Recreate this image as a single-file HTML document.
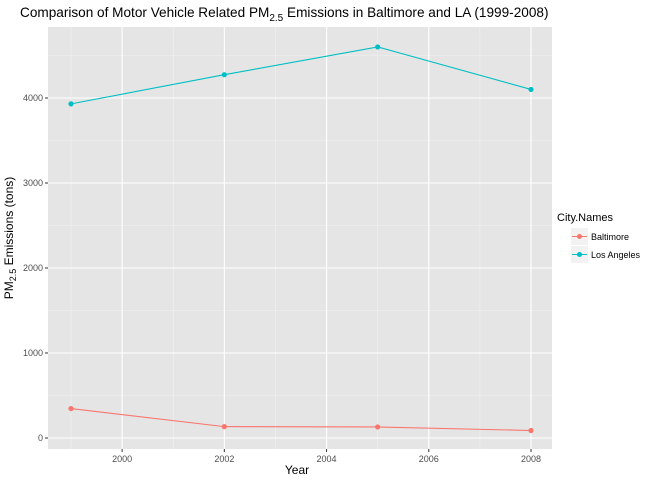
<!DOCTYPE html>
<html><head><meta charset="utf-8"><style>
body{margin:0;background:#fff;font-family:"Liberation Sans",sans-serif}
</style></head><body>
<svg width="650" height="480" xmlns="http://www.w3.org/2000/svg" font-family="Liberation Sans, sans-serif">
<text x="20" y="17" font-size="13.6" fill="#000">Comparison of Motor Vehicle Related PM<tspan font-size="10" dy="4">2.5</tspan><tspan dy="-4"> Emissions in Baltimore and LA (1999-2008)</tspan></text>
<rect x="48" y="27" width="504" height="422" fill="#e5e5e5"/>
<g id="grid"></g><g id="series"></g><g id="axes"></g>
<text x="297" y="474" font-size="12" text-anchor="middle">Year</text>
<text transform="translate(13,238) rotate(-90)" font-size="12" text-anchor="middle">PM<tspan font-size="9" dy="3">2.5</tspan><tspan dy="-3"> Emissions (tons)</tspan></text>
<g>
<text x="557" y="221" font-size="11">City.Names</text>
<g><rect x="571" y="228" width="17" height="17" fill="#f2f2f2"/><line x1="572" x2="587" y1="236.5" y2="236.5" stroke="#f8766d"/><circle cx="579.5" cy="236.5" r="2.5" fill="#f8766d"/><text x="591" y="240" font-size="9">Baltimore</text></g>
<g><rect x="571" y="246" width="17" height="17" fill="#f2f2f2"/><line x1="572" x2="587" y1="254.5" y2="254.5" stroke="#00bfc4"/><circle cx="579.5" cy="254.5" r="2.5" fill="#00bfc4"/><text x="591" y="258" font-size="9">Los Angeles</text></g>
</g>
</svg>
<script>
const years=[1999,2002,2005,2008];
const baltimore=[346,134,130,88];
const losAngeles=[3931,4274,4601,4101];
const xTicks=[2000,2002,2004,2006,2008];
const yTicks=[0,1000,2000,3000,4000];
const NS="http://www.w3.org/2000/svg";
function xs(v){return 71+(v-1999)*51.11;}
function ys(v){return 438-v*0.085;}
function mk(tag,attrs,parent){const e=document.createElementNS(NS,tag);for(const k in attrs)e.setAttribute(k,attrs[k]);document.getElementById(parent).appendChild(e);return e;}
for(let i=0;i<xTicks.length-1;i++){const m=(xTicks[i]+xTicks[i+1])/2;const l=mk('line',{x1:xs(m),x2:xs(m),y1:27,y2:449,stroke:'#f2f2f2','stroke-width':0.6},'grid');

}
const minorX=[xTicks[0]-1,xTicks[xTicks.length-1]+1];
for(const m of minorX){const v=xs(m);if(v>48&&v<552){const l=mk('line',{x1:v,x2:v,y1:27,y2:449,stroke:'#f2f2f2','stroke-width':0.6},'grid');

}}
for(let i=0;i<yTicks.length;i++){const m=yTicks[i]+500;const v=ys(m);if(v>27){const l=mk('line',{x1:48,x2:552,y1:v,y2:v,stroke:'#f2f2f2','stroke-width':0.6},'grid');

}}
for(const t of xTicks){const l=mk('line',{x1:xs(t),x2:xs(t),y1:27,y2:449,stroke:'#fff','stroke-width':1.1},'grid');


const k=mk('line',{x1:xs(t),x2:xs(t),y1:449,y2:452,stroke:'#333'},'axes');


const tx=mk('text',{x:xs(t),y:462,'font-size':9,'text-anchor':'middle',fill:'#4d4d4d'},'axes');tx.textContent=t;

}
for(const t of yTicks){const l=mk('line',{x1:48,x2:552,y1:ys(t),y2:ys(t),stroke:'#fff','stroke-width':1.1},'grid');


const k=mk('line',{x1:45,x2:48,y1:ys(t),y2:ys(t),stroke:'#333'},'axes');


const tx=mk('text',{x:43,y:ys(t)+3,'font-size':9,'text-anchor':'end',fill:'#4d4d4d'},'axes');tx.textContent=t;

}
function series(vals,color,name){const p=mk('polyline',{points:years.map((y,i)=>xs(y)+','+ys(vals[i])).join(' '),fill:'none',stroke:color,'stroke-width':1.1},'series');


years.forEach((y,i)=>{const c=mk('circle',{cx:xs(y),cy:ys(vals[i]),r:2.6,fill:color},'series');

});}
series(baltimore,'#f8766d','baltimore');
series(losAngeles,'#00bfc4','los-angeles');
</script>
</body></html>
